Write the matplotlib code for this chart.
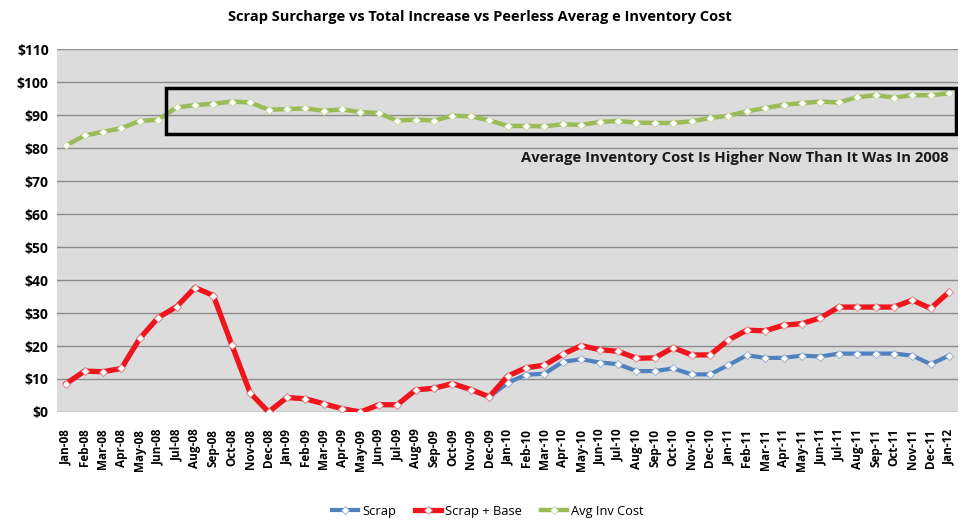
import matplotlib.pyplot as plt
from matplotlib.patches import Rectangle
from matplotlib.ticker import FuncFormatter

plt.rcParams['font.family'] = ['Open Sans', 'DejaVu Sans']

months = ['Jan-08', 'Feb-08', 'Mar-08', 'Apr-08', 'May-08', 'Jun-08', 'Jul-08', 'Aug-08', 'Sep-08', 'Oct-08', 'Nov-08', 'Dec-08',
          'Jan-09', 'Feb-09', 'Mar-09', 'Apr-09', 'May-09', 'Jun-09', 'Jul-09', 'Aug-09', 'Sep-09', 'Oct-09', 'Nov-09', 'Dec-09',
          'Jan-10', 'Feb-10', 'Mar-10', 'Apr-10', 'May-10', 'Jun-10', 'Jul-10', 'Aug-10', 'Sep-10', 'Oct-10', 'Nov-10', 'Dec-10',
          'Jan-11', 'Feb-11', 'Mar-11', 'Apr-11', 'May-11', 'Jun-11', 'Jul-11', 'Aug-11', 'Sep-11', 'Oct-11', 'Nov-11', 'Dec-11',
          'Jan-12']

scrap_base = [8.6, 12.4, 12.2, 13.2, 22.3, 28.6, 31.9, 37.7, 35.3, 20.4, 5.8, 0.0,
              4.4, 4.0, 2.5, 1.0, 0.0, 2.2, 2.2, 6.7, 7.2, 8.6, 6.8, 4.6,
              10.9, 13.4, 14.2, 17.5, 20.1, 18.9, 18.4, 16.3, 16.4, 19.5, 17.3, 17.3,
              21.8, 24.8, 24.6, 26.3, 26.8, 28.5, 31.8, 31.8, 31.8, 31.8, 33.9, 31.4,
              36.4]

scrap = [8.6, 12.4, 12.2, 13.2, 22.3, 28.6, 31.9, 37.7, 35.3, 20.4, 5.8, 0.0,
         4.4, 4.0, 2.5, 1.0, 0.0, 2.2, 2.2, 6.7, 7.2, 8.6, 6.8, 4.6,
         8.8, 11.3, 11.6, 15.2, 16.0, 15.0, 14.5, 12.4, 12.4, 13.2, 11.4, 11.4,
         14.2, 17.2, 16.4, 16.4, 17.1, 16.8, 17.7, 17.7, 17.7, 17.7, 17.1, 14.5,
         17.1]

avg_inv = [80.8, 83.8, 84.9, 86.0, 88.2, 88.6, 92.3, 93.0, 93.4, 94.1, 93.8, 91.6,
           91.8, 92.0, 91.3, 91.7, 90.9, 90.6, 88.3, 88.6, 88.3, 89.8, 89.6, 88.4,
           86.7, 86.7, 86.6, 87.2, 87.0, 87.9, 88.2, 87.7, 87.6, 87.6, 88.1, 89.1,
           89.8, 91.1, 92.1, 93.1, 93.6, 94.1, 93.8, 95.4, 96.0, 95.3, 96.0, 96.0,
           96.6]

x = list(range(len(months)))

fig = plt.figure(figsize=(9.66, 5.2), dpi=100)
ax = fig.add_axes([0.059, 0.2077, 0.933, 0.698])
ax.set_facecolor('#dcdcdc')

mk = dict(marker='D', markersize=4.5, markerfacecolor='white', markeredgewidth=0.6)
ax.plot(x, scrap, color='#4f81bd', lw=3, markeredgecolor='#8fa9cc', label='Scrap', zorder=3, **mk)
ax.plot(x, scrap_base, color='#f0141c', lw=3.8, markeredgecolor='#e08080', label='Scrap + Base', zorder=4, **mk)
ax.plot(x, avg_inv, color='#9bbb59', lw=3.2, markeredgecolor='#c3d69b', label='Avg Inv Cost', zorder=4, **mk)

ax.set_xlim(-0.5, 48.5)
ax.set_ylim(0, 110)
ax.set_yticks(range(0, 111, 10))
ax.yaxis.set_major_formatter(FuncFormatter(lambda v, p: '$%d' % v))
ax.set_xticks(x)
ax.set_xticklabels(months, rotation=90, fontsize=8.5, fontweight='bold')
for t in ax.get_yticklabels():
    t.set_fontweight('bold')
    t.set_fontsize(10)
ax.tick_params(axis='y', length=0, pad=6)
ax.tick_params(axis='x', length=0, pad=12)
ax.yaxis.grid(True, color='#8c8c8c', lw=1)
ax.set_axisbelow(True)
for s in ax.spines.values():
    s.set_visible(False)

ax.add_patch(Rectangle((5.4, 84.2), 43.0, 14.0, fill=False, ec='black', lw=2.5, zorder=5))
ax.text(48.0, 77, 'Average Inventory Cost Is Higher Now Than It Was In 2008',
        ha='right', va='center', fontsize=10.7, fontweight='bold', color='#1a1a1a')

fig.text(0.497, 0.968, 'Scrap Surcharge vs Total Increase vs Peerless Averag e Inventory Cost',
         ha='center', va='center', fontsize=10.5, fontweight='bold')

fig.legend(loc='center', bbox_to_anchor=(0.505, 0.017), ncol=3, frameon=False,
           fontsize=9.3, handlelength=2, handletextpad=0.3, columnspacing=1.5)

fig.savefig('out.png', dpi=100)
